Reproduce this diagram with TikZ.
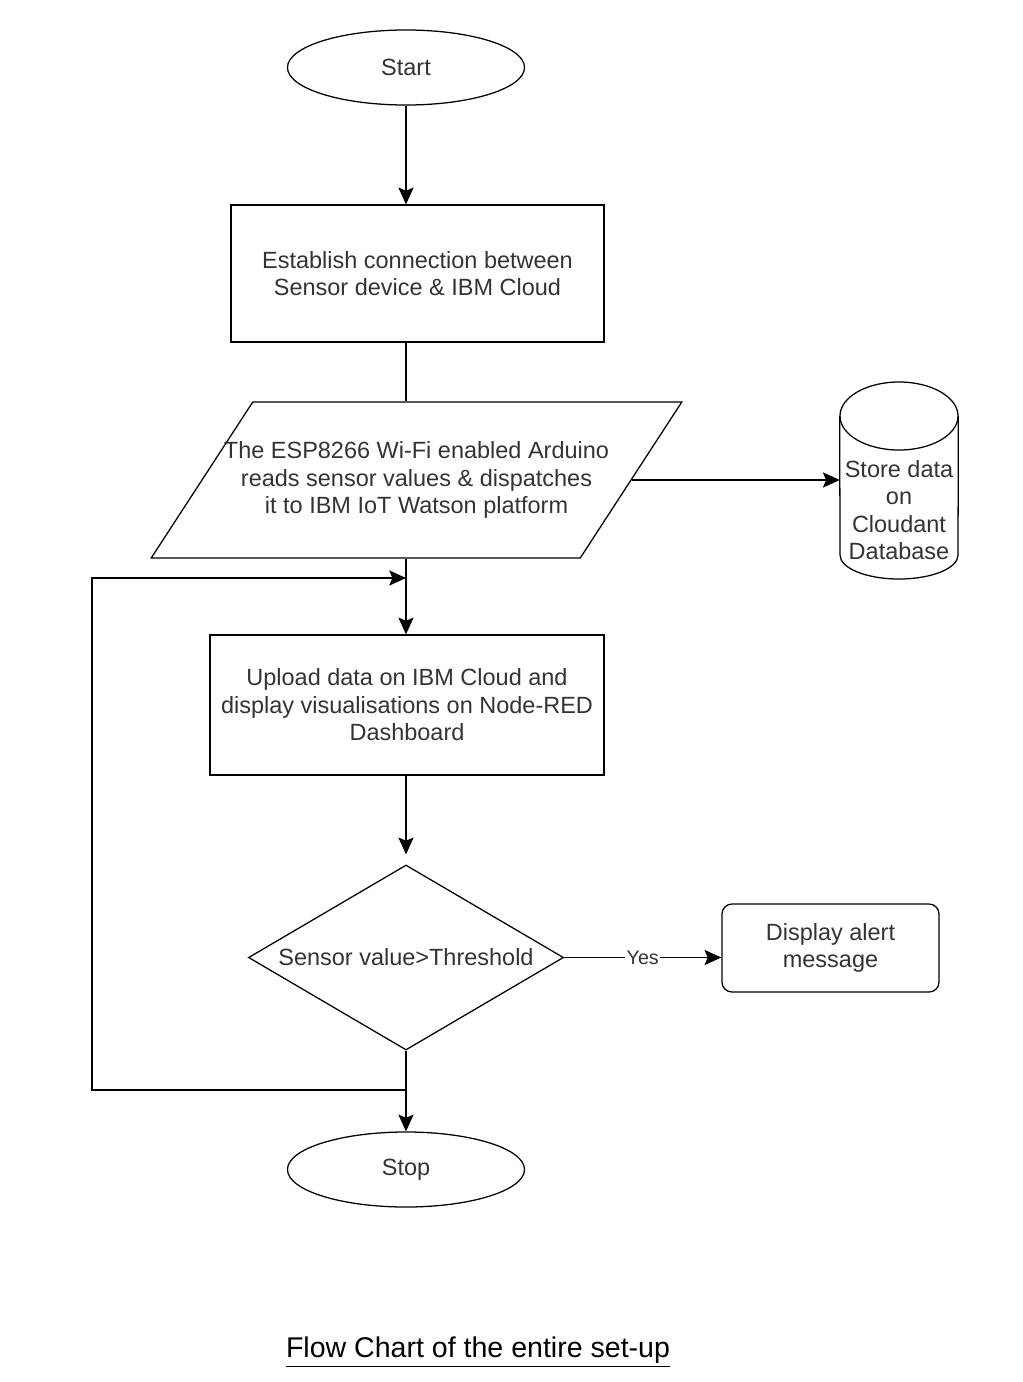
\documentclass[tikz,border=0pt]{standalone}
\usepackage{fontspec}
\setmainfont{Liberation Sans}
\usepackage{tikz}
\usetikzlibrary{shapes.geometric,arrows.meta}
\definecolor{labelgray}{HTML}{333333}

\begin{document}
\begin{tikzpicture}[x=0.025cm,y=-0.025cm,
  every node/.style={inner sep=0pt,text=labelgray,font=\fontsize{16.7}{19.5}\selectfont,align=center},
  flowline/.style={black,line width=0.9pt},
  flowarrow/.style={flowline,-{Stealth[length=0.42cm,width=0.38cm,inset=0.08cm]}},
  terminal/.style={draw,ellipse,line width=0.9pt,minimum width=5.925cm,minimum height=1.875cm},
  process/.style={draw,rectangle,line width=0.9pt},
  datain/.style={draw,trapezium,trapezium left angle=56.6,trapezium right angle=123.4,trapezium stretches body=true,inner ysep=27.5pt,inner xsep=-20.5pt,line width=0.9pt,minimum width=13.25cm,minimum height=3.9cm},
  decision/.style={draw,diamond,aspect=1.7,line width=0.9pt,minimum width=7.875cm,minimum height=4.625cm}]
\useasboundingbox (0,0) rectangle (1022,1382);
\node [terminal] (start) at (406,67.5) {Start};
\node [process,minimum width=9.325cm,minimum height=3.425cm] (connect) at (417.5,273.5) {Establish connection between\\Sensor device \& IBM Cloud};
\node [datain] (read) at (416.5,480) {The ESP8266 Wi-Fi enabled Arduino\\reads sensor values \& dispatches\\it to IBM IoT Watson platform};
\node [minimum width=2.95cm] (store) at (899,510) {Store data\\on\\Cloudant\\Database};
\node [process,minimum width=9.85cm,minimum height=3.5cm] (upload) at (407,705) {Upload data on IBM Cloud and\\display visualisations on Node-RED\\Dashboard};
\node [decision] (check) at (406,957.5) {Sensor value>Threshold};
\node [process,rounded corners=0.25cm,minimum width=5.425cm,minimum height=2.2cm] (alert) at (830.5,948) {Display alert\\message};
\node [terminal] (stop) at (406,1169.5) {Stop};
\node [text=black,font=\fontsize{20.3}{24}\selectfont] (caption) at (478,1352) {\underline{Flow Chart of the entire set-up}};
\coordinate (cantop) at (899,416);
\coordinate (loopin) at (406,578);
\coordinate (loopout) at (406,1090);
\coordinate (loopcorner) at (92,1090);
\draw [flowline] (cantop) ellipse [x radius=1.475cm,y radius=0.85cm];
\draw [flowline] (store.west |- cantop) -- (840,555) arc [start angle=180,end angle=360,x radius=1.475cm,y radius=0.6cm] -- (store.east |- cantop);
\draw [flowarrow] (start) -- (start |- connect.north);
\draw [flowline] (connect.south -| start) -- (read.north -| start);
\draw [flowarrow] (read.east) -- (read.east -| store.west);
\draw [flowarrow] (read.south -| start) -- (upload.north -| start);
\draw [flowarrow] (loopout) -- (loopcorner) |- (loopin);
\draw [flowarrow,shorten >=0.25cm] (upload.south -| check) -- (check.north);
\draw [flowarrow] (check.east) -- node [fill=white,font=\fontsize{14}{16}\selectfont,inner sep=1pt] {Yes} (check.east -| alert.west);
\draw [flowarrow] (check.south) -- (stop.north);
\end{tikzpicture}
\end{document}
